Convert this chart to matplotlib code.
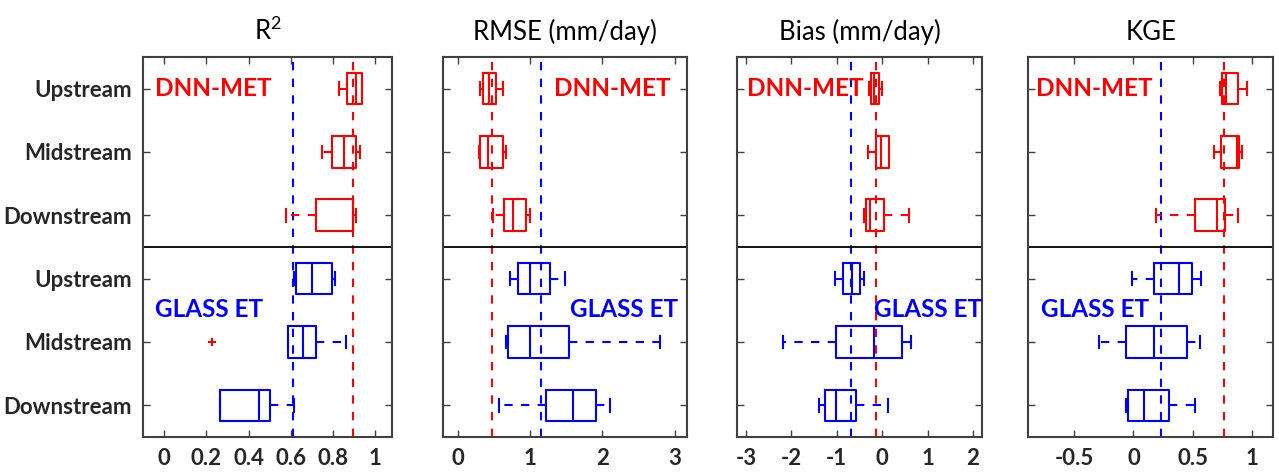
import matplotlib.pyplot as plt
from matplotlib.transforms import blended_transform_factory

plt.rcParams['font.family'] = ['Lato', 'DejaVu Sans']
plt.rcParams['mathtext.fontset'] = 'custom'
plt.rcParams['mathtext.rm'] = 'Lato'
plt.rcParams['axes.unicode_minus'] = False

rows = ['Upstream', 'Midstream', 'Downstream', 'Upstream', 'Midstream', 'Downstream']
colors = ['red', 'red', 'red', 'blue', 'blue', 'blue']

# R2
r2_lo = [0.83, 0.746, 0.576, 0.617, 0.585, 0.267]
r2_q1 = [0.869, 0.797, 0.719, 0.623, 0.585, 0.267]
r2_med = [0.91, 0.852, 0.897, 0.703, 0.659, 0.448]
r2_q3 = [0.938, 0.907, 0.897, 0.795, 0.718, 0.50]
r2_hi = [0.94, 0.93, 0.91, 0.812, 0.864, 0.614]
r2_out = [[], [], [], [], [0.227], []]
r2_ref = [0.896, 0.61]

# RMSE
rmse_lo = [0.31, 0.30, 0.487, 0.73, 0.667, 0.575]
rmse_q1 = [0.354, 0.31, 0.648, 0.832, 0.70, 1.228]
rmse_med = [0.43, 0.42, 0.77, 1.0, 1.0, 1.595]
rmse_q3 = [0.529, 0.634, 0.943, 1.278, 1.54, 1.913]
rmse_hi = [0.634, 0.67, 1.0, 1.49, 2.8, 2.106]
rmse_out = [[], [], [], [], [], []]
rmse_ref = [0.474, 1.15]

# Bias
bias_lo = [-0.30, -0.31, -0.39, -1.05, -2.19, -1.39]
bias_q1 = [-0.24, -0.13, -0.365, -0.86, -1.007, -1.255]
bias_med = [-0.17, -0.015, -0.26, -0.66, -0.19, -1.015]
bias_q3 = [-0.06, 0.14, 0.044, -0.49, 0.438, -0.584]
bias_hi = [-0.01, 0.14, 0.584, -0.39, 0.628, 0.124]
bias_out = [[], [], [], [], [], []]
bias_ref = [-0.146, -0.68]

# KGE
kge_lo = [0.73, 0.683, 0.193, -0.01, -0.292, -0.065]
kge_q1 = [0.749, 0.737, 0.522, 0.17, -0.06, -0.043]
kge_med = [0.78, 0.873, 0.706, 0.388, 0.17, 0.09]
kge_q3 = [0.885, 0.893, 0.774, 0.496, 0.456, 0.30]
kge_hi = [0.958, 0.916, 0.882, 0.573, 0.564, 0.519]
kge_out = [[], [], [], [], [], []]
kge_ref = [0.768, 0.232]

panels = [
    dict(title=r'$\mathrm{R}^{2}$', lo=r2_lo, q1=r2_q1, med=r2_med, q3=r2_q3, hi=r2_hi,
         out=r2_out, ref=r2_ref, xlim=(-0.1, 1.08), xticks=[0, 0.2, 0.4, 0.6, 0.8, 1],
         xlabels=['0', '0.2', '0.4', '0.6', '0.8', '1'],
         dnn=(0.048, 'left'), glass=(0.048, 'left')),
    dict(title='RMSE (mm/day)', lo=rmse_lo, q1=rmse_q1, med=rmse_med, q3=rmse_q3, hi=rmse_hi,
         out=rmse_out, ref=rmse_ref, xlim=(-0.2, 3.17), xticks=[0, 1, 2, 3],
         xlabels=['0', '1', '2', '3'],
         dnn=(0.934, 'right'), glass=(0.963, 'right')),
    dict(title='Bias (mm/day)', lo=bias_lo, q1=bias_q1, med=bias_med, q3=bias_q3, hi=bias_hi,
         out=bias_out, ref=bias_ref, xlim=(-3.2, 2.2), xticks=[-3, -2, -1, 0, 1, 2],
         xlabels=['-3', '-2', '-1', '0', '1', '2'],
         dnn=(0.041, 'left'), glass=(0.559, 'left')),
    dict(title='KGE', lo=kge_lo, q1=kge_q1, med=kge_med, q3=kge_q3, hi=kge_hi,
         out=kge_out, ref=kge_ref, xlim=(-0.89, 1.18), xticks=[-0.5, 0, 0.5, 1],
         xlabels=['-0.5', '0', '0.5', '1'],
         dnn=(0.033, 'left'), glass=(0.052, 'left')),
]

fig = plt.figure(figsize=(12.79, 4.74), dpi=100)
lefts = [0.1118, 0.3464, 0.5762, 0.8038]
widths = [0.1947, 0.1908, 0.1916, 0.1916]
bottom, height = 0.078, 0.802

for i, p in enumerate(panels):
    ax = fig.add_axes([lefts[i], bottom, widths[i], height])

    for k in range(6):
        stats = [dict(med=p['med'][k], q1=p['q1'][k], q3=p['q3'][k],
                      whislo=p['lo'][k], whishi=p['hi'][k], fliers=p['out'][k])]
        c = colors[k]
        ax.bxp(stats, positions=[k + 1], vert=False, widths=0.5, capwidths=0.2,
               boxprops=dict(color=c, lw=1.5),
               medianprops=dict(color=c, lw=1.5),
               whiskerprops=dict(color=c, lw=1.5, ls=(0, (4, 4))),
               capprops=dict(color=c, lw=1.5),
               flierprops=dict(marker='+', markeredgecolor='red', markersize=6, mew=1.5))

    # reference lines for the two products
    ax.axvline(p['ref'][0], color='red', ls=(0, (4, 4)), lw=1.5, zorder=0)
    ax.axvline(p['ref'][1], color='blue', ls=(0, (4, 4)), lw=1.5, zorder=0)
    ax.axhline(3.5, color='black', lw=1.3)

    ax.set_xlim(*p['xlim'])
    ax.set_ylim(6.5, 0.5)
    ax.set_xticks(p['xticks'])
    ax.set_xticklabels(p['xlabels'], fontsize=16, fontweight='bold', color='#262626')
    ax.set_yticks(range(1, 7))
    if i == 0:
        ax.set_yticklabels(rows, fontsize=16, fontweight='bold', color='#262626')
    else:
        ax.set_yticklabels([])
    ax.tick_params(direction='in', length=5, width=1, top=True, right=True,
                   color='#404040', pad=8)
    for s in ax.spines.values():
        s.set_color('#404040')
        s.set_linewidth(1.5)
    ax.set_title(p['title'], fontsize=18.5, pad=12, color='black')

    tr = blended_transform_factory(ax.transAxes, ax.transData)
    ax.text(p['dnn'][0], 1, 'DNN-MET', color='red', fontsize=17.5, fontweight='bold',
            ha=p['dnn'][1], va='center', transform=tr)
    ax.text(p['glass'][0], 4.48, 'GLASS ET', color='blue', fontsize=17.5, fontweight='bold',
            ha=p['glass'][1], va='center', transform=tr)

fig.savefig('out.png', dpi=100)
